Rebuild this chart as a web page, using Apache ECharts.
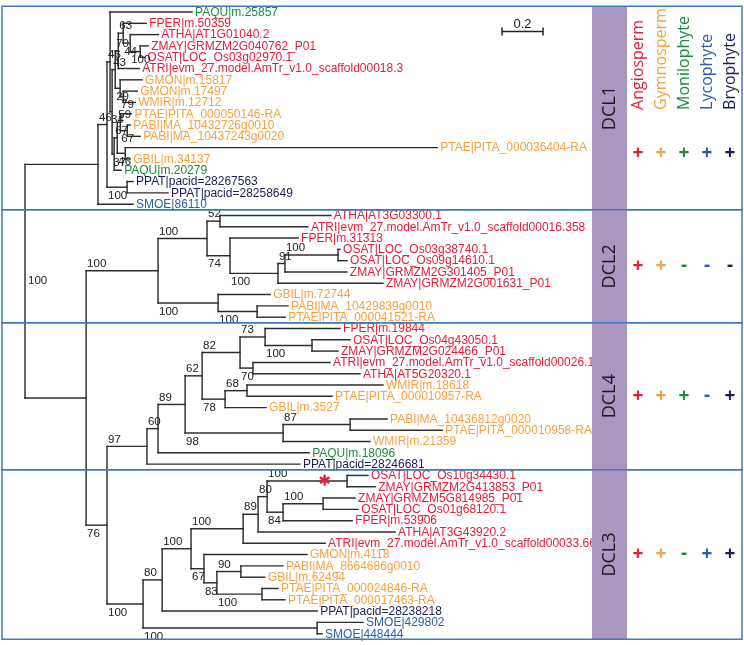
<!DOCTYPE html>
<html><head><meta charset="utf-8">
<script src="https://cdn.jsdelivr.net/npm/echarts@6/dist/echarts.min.js"></script>
<style>html,body{margin:0;padding:0;background:#fff}#c{width:744px;height:645px}</style>
</head><body><div id="c"></div>
<script>
// ---------------- DATA ----------------
// Clade trees (Newick, branch lengths in substitutions/site, internal labels = bootstrap support)
const dcl1Tree = "(((PAQU|m.25857:0.400,((((FPER|m.50359:0.112,(ATHA|AT1G01040.2:0.137,(ZMAY|GRMZM2G040762_P01:0.039,OSAT|LOC_Os03g02970.1:0.020)100:0.049)44:0.034)63:0.024,ATRI|evm_27.model.AmTr_v1.0_scaffold00018.3:0.102)70:0.015,(GMON|m.15817:0.107,(GMON|m.17497:0.068,WMIR|m.12712:0.059)79:0.015)29:0.024)43:0.015,(((PTAE|PITA_000050146-RA:0.054,(PABI|MA_10432726g0010:0.015,PABI|MA_10437243g0020:0.063)67:0.034)59:0.015,(PTAE|PITA_000036404-RA:1.522,GBIL|m.34137:0.024)46:0.039)67:0.015,PAQU|m.20279:0.034)37:0.010)34:0.010)46:0.015,(PPAT|pacid=28267563:0.029,PPAT|pacid=28258649:0.200)100:0.098)46:0.044,SMOE|86110:0.171)";
const dcl2Tree = "(((ATHA|AT3G03300.1:0.541,ATRI|evm_27.model.AmTr_v1.0_scaffold00016.358:0.429)52:0.063,(FPER|m.31313:0.332,(((OSAT|LOC_Os03g38740.1:0.010,OSAT|LOC_Os09g14610.1:0.044)100:0.259,ZMAY|GRMZM2G301405_P01:0.302)91:0.034,ZMAY|GRMZM2G001631_P01:0.512)100:0.234)74:0.112)100:0.239,(GBIL|m.72744:0.254,(PABI|MA_10429839g0010:0.151,PTAE|PITA_000041521-RA:0.137)100:0.190)100:0.293)100";
const dcl4Tree = "((((((FPER|m.19844:0.366,(OSAT|LOC_Os04g43050.1:0.185,ZMAY|GRMZM2G024466_P01:0.127)100:0.229)73:0.122,(ATRI|evm_27.model.AmTr_v1.0_scaffold00026.16:0.376,ATHA|AT5G20320.1:0.522)70:0.063)82:0.185,((WMIR|m.18618:0.663,PTAE|PITA_000010957-RA:0.415)68:0.107,GBIL|m.3527:0.200)78:0.112)62:0.083,((PABI|MA_10436812g0020:0.180,PTAE|PITA_000010958-RA:0.449)87:0.327,WMIR|m.21359:0.424)98:0.478)89:0.132,PAQU|m.18096:0.737)60:0.054,PPAT|pacid=28246681:0.746)97";
const dcl3Tree = "(((((((OSAT|LOC_Os10g34430.1:0.102,ZMAY|GRMZM2G413853_P01:0.137)100:0.390,((ZMAY|GRMZM5G814985_P01:0.156,OSAT|LOC_Os01g68120.1:0.171)100:0.195,FPER|m.53906:0.337)84:0.078)80:0.044,ATHA|AT3G43920.2:0.668)89:0.073,ATRI|evm_27.model.AmTr_v1.0_scaffold00033.66:0.400)100:0.254,(GMON|m.4118:0.502,((PABI|MA_8664686g0010:0.205,GBIL|m.62494:0.117)90:0.117,(PTAE|PITA_000024846-RA:0.078,PTAE|PITA_000017463-RA:0.112)100:0.220)83:0.063)67:0.063)100:0.141,PPAT|pacid=28238218:0.756)80:0.093,(SMOE|429802:0.224,SMOE|448444:0.024)100:0.849)100";
const backboneTree = "(DCL1:0.356,(DCL2:0.351,(DCL4:0.195,DCL3:0.176)76:0.102):0.298)";
const rootSupport = "100";

const cladeNames = ['DCL1', 'DCL2', 'DCL4', 'DCL3'];
const taxonGroups = ['Angiosperm', 'Gymnosperm', 'Monilophyte', 'Lycophyte', 'Bryophyte'];
const groupPrefixes = [['ATHA','ZMAY','OSAT','ATRI','FPER'], ['GMON','WMIR','PTAE','PABI','GBIL'], ['PAQU'], ['SMOE'], ['PPAT']];
const presenceDCL1 = ['+', '+', '+', '+', '+'];
const presenceDCL2 = ['+', '+', '-', '-', '-'];
const presenceDCL4 = ['+', '+', '+', '-', '+'];
const presenceDCL3 = ['+', '+', '-', '+', '+'];
const scaleBarLength = 0.2;
const scaleBarLabel = '0.2';
const starredPair = ['OSAT|LOC_Os10g34430.1', 'ZMAY|GRMZM2G413853_P01'];

// ---------------- STYLE / LAYOUT ----------------
const groupColors = ['#e2203c', '#f6a23e', '#1f8b3d', '#2c5fa6', '#1c1e5a'];
const pxPerUnit = 205;
const headerRow = 8.66;
const presenceByClade = {DCL1: presenceDCL1, DCL2: presenceDCL2, DCL4: presenceDCL4, DCL3: presenceDCL3};
const cladeSources = {DCL1: dcl1Tree, DCL2: dcl2Tree, DCL4: dcl4Tree, DCL3: dcl3Tree};

function parseNewick(s) {
  let i = 0;
  function node() {
    const n = {children: [], name: '', len: 0};
    if (s[i] === '(') {
      i++;
      n.children.push(node());
      while (s[i] === ',') { i++; n.children.push(node()); }
      i++;
    }
    let name = '';
    while (i < s.length && ':,()'.indexOf(s[i]) < 0) name += s[i++];
    n.name = name;
    if (s[i] === ':') {
      i++; let num = '';
      while (i < s.length && ',()'.indexOf(s[i]) < 0) num += s[i++];
      n.len = parseFloat(num);
    }
    return n;
  }
  return node();
}
function graft(n) {
  n.children = n.children.map(ch => {
    if (!ch.children.length && cladeSources[ch.name]) {
      const sub = parseNewick(cladeSources[ch.name]);
      sub.len = ch.len; sub.clade = ch.name;
      return sub;
    }
    graft(ch); return ch;
  });
  return n;
}
const root = graft(parseNewick(backboneTree));

let leafCounter = 0;
function layout(n, parent, x) {
  n.x = x; n.parent = parent;
  if (!n.children.length) { n.y = leafCounter++; n.first = n.y; n.last = n.y; }
  else {
    n.children.forEach(ch => layout(ch, n, x + ch.len));
    const a = n.children[0], b = n.children[n.children.length - 1];
    n.y = (a.y + b.y) / 2; n.first = a.first; n.last = b.last;
  }
}
layout(root, null, 0);

const segs = [], leaves = [], leafNames = [], supports = [], supportTexts = [], clades = [];
const leafIndex = {};
function collect(n, order) {
  if (n.parent) segs.push([n.parent.x, n.y, n.x, n.y]);
  if (n.children.length) {
    segs.push([n.x, n.children[0].y, n.x, n.children[n.children.length - 1].y]);
    if (n.parent && n.name) { supports.push([n.parent.x, n.y, order, supportTexts.length]); supportTexts.push(n.name); }
  } else {
    leafIndex[n.name] = n.y;
    leaves.push([n.x, n.y, leafNames.length]); leafNames.push(n.name);
  }
  if (n.clade) clades.push({name: n.clade, first: n.first, last: n.last});
  n.children.forEach((ch, i) => collect(ch, i === 0 ? -1 : 1));
}
collect(root, 0);

function groupOf(name) {
  const p = name.split('|')[0];
  return groupPrefixes.findIndex(g => g.indexOf(p) >= 0);
}

let starNode = null;
(function () {
  const lo = Math.min(leafIndex[starredPair[0]], leafIndex[starredPair[1]]);
  const hi = Math.max(leafIndex[starredPair[0]], leafIndex[starredPair[1]]);
  (function walk(m) {
    if (m.first <= lo && m.last >= hi) { starNode = m; m.children.forEach(walk); }
  })(root);
})();
const starData = [[starNode.parent.x + 0.72 * (starNode.x - starNode.parent.x), starNode.y]];

const rootData = [[root.x, (root.children[0].y + root.children[1].y) / 2]];
const boxData = clades.map(c => [c.first - 0.5, c.last + 0.5, cladeNames.indexOf(c.name)]);
const presenceData = [];
clades.forEach(c => {
  const row = c.name === 'DCL1' ? c.last + 0.5 - 5 : (c.first + c.last) / 2;
  presenceByClade[c.name].forEach((s, g) => presenceData.push([g, row, g, s === '+' ? 1 : 0]));
});
const headerData = taxonGroups.map((t, g) => [g, headerRow, g]);

const leafFont = '12px "Liberation Sans", Arial, sans-serif';
const supFont = '11.5px "Liberation Sans", Arial, sans-serif';
const textMid = {align: 'left', verticalAlign: 'middle', textAlign: 'left', textVerticalAlign: 'middle'};

const chart = echarts.init(document.getElementById('c'));
chart.setOption({
  animation: false,
  backgroundColor: '#ffffff',
  grid: [
    {left: 25, top: 0.7, width: 719, height: 644.7},
    {left: 626.5, top: 0.7, width: 115, height: 644.7}
  ],
  xAxis: [
    {gridIndex: 0, type: 'value', min: 0, max: 719 / pxPerUnit, show: false},
    {gridIndex: 1, type: 'category', data: taxonGroups, show: false}
  ],
  yAxis: [
    {gridIndex: 0, type: 'value', min: -1, max: leafCounter, inverse: true, show: false},
    {gridIndex: 1, type: 'value', min: -1, max: leafCounter, inverse: true, show: false}
  ],
  series: [
    { // branches
      type: 'custom', xAxisIndex: 0, yAxisIndex: 0, data: segs, silent: true, z: 2,
      renderItem: (p, api) => {
        const a = api.coord([api.value(0), api.value(1)]), b = api.coord([api.value(2), api.value(3)]);
        return {type: 'line', shape: {x1: a[0], y1: a[1], x2: b[0], y2: b[1]},
          style: {stroke: '#2e2e2e', lineWidth: 1.45, lineCap: 'square'}};
      }
    },
    { // leaf labels
      type: 'custom', xAxisIndex: 0, yAxisIndex: 0, data: leaves, silent: true, z: 3,
      renderItem: (p, api) => {
        const c = api.coord([api.value(0), api.value(1)]);
        const name = leafNames[api.value(2)];
        return {type: 'text', x: c[0] + 3, y: c[1] + 0.5,
          style: Object.assign({text: name, fill: groupColors[groupOf(name)], font: leafFont}, textMid)};
      }
    },
    { // bootstrap support labels
      type: 'custom', xAxisIndex: 0, yAxisIndex: 0, data: supports, silent: true, z: 3,
      renderItem: (p, api) => {
        const c = api.coord([api.value(0), api.value(1)]);
        const below = api.value(2) > 0;
        return {type: 'text', x: c[0] + 1, y: c[1] + (below ? 8.5 : -7),
          style: Object.assign({text: supportTexts[api.value(3)], fill: '#222', font: supFont}, textMid)};
      }
    },
    { // root support
      type: 'custom', xAxisIndex: 0, yAxisIndex: 0, data: rootData, silent: true, z: 3,
      renderItem: (p, api) => {
        const c = api.coord([api.value(0), api.value(1)]);
        return {type: 'text', x: c[0] + 3, y: c[1],
          style: Object.assign({text: rootSupport, fill: '#222', font: supFont}, textMid)};
      }
    },
    { // red asterisk
      type: 'custom', xAxisIndex: 0, yAxisIndex: 0, data: starData, silent: true, z: 4,
      renderItem: (p, api) => {
        const c = api.coord([api.value(0), api.value(1)]);
        const r = 5.5, kids = [];
        for (let k = 0; k < 3; k++) {
          const ang = Math.PI / 2 + k * Math.PI / 3;
          kids.push({type: 'line', shape: {x1: c[0] - r * Math.cos(ang), y1: c[1] - 1 - r * Math.sin(ang),
            x2: c[0] + r * Math.cos(ang), y2: c[1] - 1 + r * Math.sin(ang)},
            style: {stroke: '#e2203c', lineWidth: 2.4}});
        }
        return {type: 'group', children: kids};
      }
    },
    { // scale bar
      type: 'custom', xAxisIndex: 0, yAxisIndex: 0, data: [[scaleBarLength]], silent: true, z: 4,
      renderItem: (p, api) => {
        const x0 = 2.327, yIdx = 1.72;
        const a = api.coord([x0, yIdx]), b = api.coord([x0 + api.value(0), yIdx]);
        const st = {stroke: '#222', lineWidth: 1.5};
        return {type: 'group', children: [
          {type: 'line', shape: {x1: a[0], y1: a[1], x2: b[0], y2: b[1]}, style: st},
          {type: 'line', shape: {x1: a[0], y1: a[1] - 4, x2: a[0], y2: a[1] + 4}, style: st},
          {type: 'line', shape: {x1: b[0], y1: b[1] - 4, x2: b[0], y2: b[1] + 4}, style: st},
          {type: 'text', x: (a[0] + b[0]) / 2, y: a[1] - 7,
            style: {text: scaleBarLabel, fill: '#222', font: '13px "Liberation Sans", Arial, sans-serif',
              align: 'center', verticalAlign: 'middle', textAlign: 'center', textVerticalAlign: 'middle'}}
        ]};
      }
    },
    { // clade boxes + purple band
      type: 'custom', xAxisIndex: 0, yAxisIndex: 0, data: boxData, silent: true, z: 6,
      renderItem: (p, api) => {
        const top = api.coord([0, api.value(0)])[1], bot = api.coord([0, api.value(1)])[1];
        return {type: 'group', children: [
          {type: 'rect', shape: {x: 592, y: top, width: 35, height: bot - top}, style: {fill: '#aa96bf'}},
          {type: 'rect', shape: {x: 2, y: top, width: 740, height: bot - top},
            style: {fill: 'none', stroke: '#3d7cc0', lineWidth: 1.5}},
          {type: 'text', x: 610, y: (top + bot) / 2, rotation: Math.PI / 2,
            style: {text: cladeNames[api.value(2)], fill: '#1a1a1a', font: '18px "Open Sans", sans-serif',
              align: 'center', verticalAlign: 'middle', textAlign: 'center', textVerticalAlign: 'middle'}}
        ]};
      }
    },
    { // column headers (taxon groups)
      type: 'custom', xAxisIndex: 1, yAxisIndex: 1, data: headerData, silent: true, z: 7,
      renderItem: (p, api) => {
        const c = api.coord([api.value(0), api.value(1)]);
        return {type: 'text', x: c[0], y: c[1], rotation: Math.PI / 2,
          style: Object.assign({text: taxonGroups[api.value(2)], fill: groupColors[api.value(2)],
            font: '16px "Open Sans", sans-serif'}, textMid)};
      }
    },
    { // presence / absence
      type: 'custom', xAxisIndex: 1, yAxisIndex: 1, data: presenceData, silent: true, z: 7,
      renderItem: (p, api) => {
        const c = api.coord([api.value(0), api.value(1)]);
        const plus = api.value(3) === 1;
        return {type: 'text', x: c[0], y: c[1] + (plus ? 0 : -1),
          style: {text: plus ? '+' : '-', fill: groupColors[api.value(2)], font: 'bold 19px "Open Sans", sans-serif',
            align: 'center', verticalAlign: 'middle', textAlign: 'center', textVerticalAlign: 'middle'}};
      }
    }
  ]
});
</script>
</body></html>
